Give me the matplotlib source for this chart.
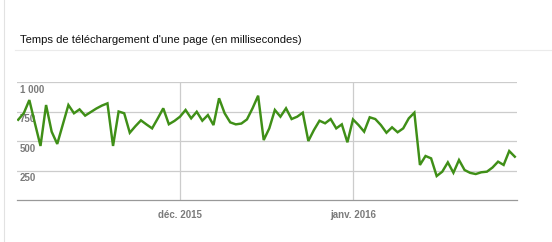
import numpy as np
import matplotlib.pyplot as plt
import matplotlib.dates as mdates
from datetime import datetime, timedelta

# temps de chargement quotidien (ms), du 2 nov. 2015 au 30 janv. 2016
start = datetime(2015, 11, 2)
load_ms = [
    680, 735, 847, 650, 458, 805, 579, 475, 640, 805,
    735, 768, 715, 745, 775, 800, 819, 458, 750, 735,
    570, 625, 675, 640, 607, 690, 777, 642, 670, 706,
    763, 692, 748, 672, 720, 635, 862, 735, 658, 641,
    648, 683, 777, 884, 508, 607, 763, 706, 777, 686,
    706, 740, 500, 593, 672, 650, 686, 607, 641, 489,
    683, 635, 579, 701, 686, 635, 570, 616, 574, 607,
    692, 740, 297, 373, 353, 203, 240, 319, 231, 339,
    254, 230, 220, 235, 240, 275, 325, 297, 415, 367,
]
days = [start + timedelta(days=i) for i in range(len(load_ms))]

yticks = [250, 500, 750, 1000]
ytick_labels = ["250", "500", "750", "1 000"]
xticks = [datetime(2015, 12, 1), datetime(2016, 1, 1)]
xtick_labels = ["déc. 2015", "janv. 2016"]

W, H = 552, 242
fig = plt.figure(figsize=(W / 100, H / 100), dpi=100)
fig.patch.set_facecolor("white")

# cadre de gauche et séparateur sous le titre
fig.add_artist(plt.Line2D([4 / W, 4 / W], [0, 1], color="#e2e2e2", lw=0.8))
fig.add_artist(plt.Line2D([15 / W, 1], [1 - 50 / H, 1 - 50 / H], color="#ebebeb", lw=0.8))
fig.text(20 / W, 1 - 40 / H, "Temps de téléchargement d'une page (en millisecondes)",
         fontsize=8.1, family="Liberation Sans", color="#111111", va="center", ha="left")

ax = fig.add_axes([17 / W, 1 - 200 / H, 500 / W, 118 / H])
ax.set_facecolor("white")

dec1 = mdates.date2num(xticks[0])
ax.set_xlim(dec1 - 163 / 5.58, dec1 + 337 / 5.58)
ax.set_ylim(0, 1000)

for v in yticks:
    ax.axhline(v, color="#cccccc", lw=0.9, zorder=1)
for d in xticks:
    ax.axvline(d, color="#cccccc", lw=0.9, zorder=1)

ax.plot(days, load_ms, color="#3f8f17", lw=1.75, zorder=3, solid_joinstyle="miter")

for v, lab in zip(yticks, ytick_labels):
    ax.text(0.006, v - 22, lab, transform=ax.get_yaxis_transform(), fontsize=7,
            family="Liberation Sans", weight="bold", color="#7a7a7a",
            va="top", ha="left", zorder=2)

ax.set_xticks(xticks)
ax.set_xticklabels(xtick_labels, fontsize=7, family="Liberation Sans",
                   weight="bold", color="#7a7a7a")
ax.tick_params(axis="x", length=0, pad=7)
ax.set_yticks([])

for s in ["top", "left", "right"]:
    ax.spines[s].set_visible(False)
ax.spines["bottom"].set_color("#999999")
ax.spines["bottom"].set_linewidth(0.9)

fig.savefig("out.png", dpi=100, facecolor="white")
